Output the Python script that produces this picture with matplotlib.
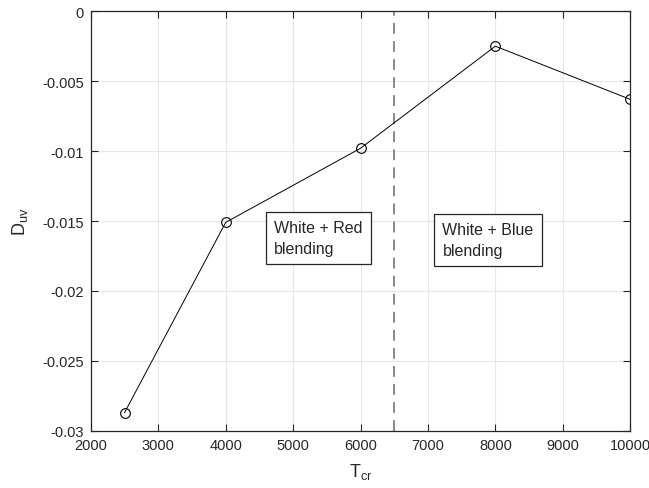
import matplotlib
matplotlib.use("Agg")
matplotlib.rcParams.update({
    'font.family': ['Liberation Sans', 'DejaVu Sans'],
    'font.size': 10,
})
from matplotlib import pyplot as plt

# correlated colour temperature vs. Duv
t_cr = [2500, 4000, 6000, 8000, 10000]
d_uv = [-0.0287, -0.0151, -0.0098, -0.0025, -0.0063]
split_temp = 6500

x_ticks = [2000, 3000, 4000, 5000, 6000, 7000, 8000, 9000, 10000]
y_ticks = [-0.03, -0.025, -0.02, -0.015, -0.01, -0.005, 0]
y_labels = ['-0.03', '-0.025', '-0.02', '-0.015', '-0.01', '-0.005', '0']

fig = plt.figure(figsize=(6.49, 4.89), dpi=100)
ax = fig.add_axes([0.140, 0.117, 0.831, 0.858])

ax.plot(t_cr, d_uv, color='k', lw=0.7, marker='o', ms=7,
        mfc='none', mec='k', mew=0.8, zorder=3)
ax.axvline(split_temp, color='#808080', lw=1.3, ls=(0, (6, 4)), zorder=2)

ax.set_xlim(2000, 10000)
ax.set_ylim(-0.03, 0)
ax.set_xticks(x_ticks)
ax.set_xticklabels([str(t) for t in x_ticks])
ax.set_yticks(y_ticks)
ax.set_yticklabels(y_labels)
ax.grid(True, color='#e6e6e6', lw=0.8)
ax.set_axisbelow(True)
ax.tick_params(direction='in', top=True, right=True, length=5,
               width=0.8, colors='#262626', labelsize=10.5, pad=5)
for s in ax.spines.values():
    s.set_color('#262626')
    s.set_linewidth(0.9)

ax.set_xlabel(r'T$_{\mathregular{cr}}$', fontsize=13, color='#262626', labelpad=7)
ax.set_ylabel(r'D$_{\mathregular{uv}}$', fontsize=13, color='#262626', labelpad=9)

box = dict(boxstyle='square,pad=0.5', fc='white', ec='#262626', lw=0.9)
ax.text(4720, -0.0149, 'White + Red\nblending', fontsize=11.5,
        color='#262626', ha='left', va='top', bbox=box, linespacing=1.5)
ax.text(7215, -0.0151, 'White + Blue\nblending', fontsize=11.5,
        color='#262626', ha='left', va='top', bbox=box, linespacing=1.5)

plt.savefig('out.png', dpi=100)
plt.close('all')
